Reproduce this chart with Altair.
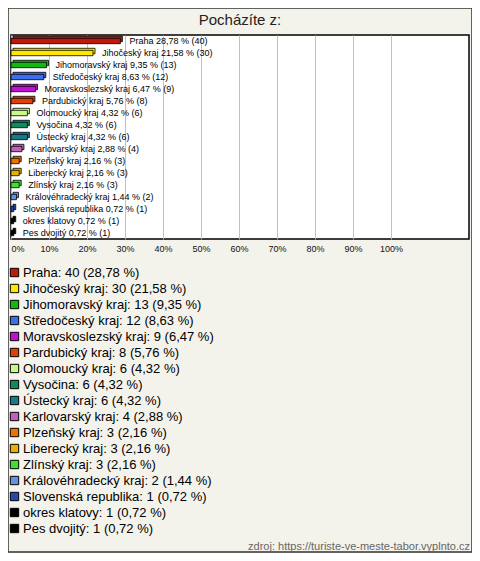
import altair as alt
import pandas as pd

categories = ["Praha", "Jihočeský kraj", "Jihomoravský kraj", "Středočeský kraj",
              "Moravskoslezský kraj", "Pardubický kraj", "Olomoucký kraj", "Vysočina",
              "Ústecký kraj", "Karlovarský kraj", "Plzeňský kraj", "Liberecký kraj",
              "Zlínský kraj", "Královéhradecký kraj", "Slovenská republika",
              "okres klatovy", "Pes dvojitý"]
counts = [40, 30, 13, 12, 9, 8, 6, 6, 6, 4, 3, 3, 3, 2, 1, 1, 1]
percents = [28.78, 21.58, 9.35, 8.63, 6.47, 5.76, 4.32, 4.32, 4.32, 2.88, 2.16, 2.16,
            2.16, 1.44, 0.72, 0.72, 0.72]
colors = ["#c0180c", "#ffe600", "#10b810", "#3c6ef0", "#c010d8", "#e04008", "#c8f888",
          "#108a60", "#18788c", "#c060c0", "#f07000", "#e8b000", "#40e030", "#6890e0",
          "#2848b0", "#000000", "#000000"]
tick_values = [0, 10, 20, 30, 40, 50, 60, 70, 80, 90, 100]
title_text = "Pocházíte z:"
source_text = "zdroj: https://turiste-ve-meste-tabor.vyplnto.cz"


def fmt(p):
    return f"{p:.2f}".replace(".", ",")


df = pd.DataFrame({
    "cat": categories,
    "count": counts,
    "pct": percents,
    "bar_label": [f"{c} {fmt(p)} % ({n})" for c, n, p in zip(categories, counts, percents)],
    "leg_label": [f"{c}: {n} ({fmt(p)} %)" for c, n, p in zip(categories, counts, percents)],
})
legend_labels = list(df["leg_label"])

W, H = 458, 204
FONT = "Liberation Sans"

y_enc = alt.Y("cat:N", sort=categories, axis=None,
              scale=alt.Scale(paddingInner=0.55, paddingOuter=0.275))
x_enc = alt.X("pct:Q",
              scale=alt.Scale(domain=[0, 120.5], nice=False, zero=True),
              axis=alt.Axis(values=tick_values, labelExpr="datum.value + '%'",
                            grid=True, gridColor="#c0c0c0", gridWidth=1,
                            domain=False, ticks=False, labelFontSize=9,
                            labelFont=FONT, labelColor="#111", labelPadding=5,
                            labelFlush=True, title=None))
color_enc = alt.Color("leg_label:N",
                      scale=alt.Scale(domain=legend_labels, range=colors),
                      sort=legend_labels,
                      legend=alt.Legend(orient="none", legendX=-3, legendY=231,
                                        title=None, symbolType="square",
                                        symbolSize=70, symbolStrokeColor="#000",
                                        symbolStrokeWidth=1, symbolOpacity=1,
                                        labelFontSize=13, labelFont=FONT,
                                        labelColor="#000", labelOffset=2,
                                        rowPadding=2, padding=0, columns=1,
                                        labelLimit=400))

base = alt.Chart(df)

back = base.mark_bar(xOffset=2, yOffset=-2, stroke="#000", strokeWidth=0.8).encode(
    x=x_enc, y=y_enc, color=color_enc)
front = base.mark_bar(stroke="#000", strokeWidth=0.8).encode(
    x=x_enc, y=y_enc, color=color_enc)
labels = base.mark_text(align="left", baseline="middle", dx=9, fontSize=9,
                        font=FONT, color="#000").encode(
    x="pct:Q", y=y_enc, text="bar_label:N")

one = alt.Chart(pd.DataFrame({"a": [0]}))
frame = one.mark_rect(fill=None, stroke="#333", strokeWidth=1.5).encode(
    x=alt.value(-3), x2=alt.value(461), y=alt.value(-27), y2=alt.value(517))
title = one.mark_text(align="center", baseline="middle", fontSize=15, font=FONT,
                      color="#222").encode(
    x=alt.value(W / 2), y=alt.value(-15), text=alt.value(title_text))
source = one.mark_text(align="right", baseline="middle", fontSize=11, font=FONT,
                       color="#666").encode(
    x=alt.value(459), y=alt.value(512), text=alt.value(source_text))

chart = alt.layer(back, front, labels, frame, title, source).properties(
    width=W, height=H,
    autosize=alt.AutoSizeParams(type="none"),
    padding={"left": 3, "top": 27, "right": 3, "bottom": 314},
).configure(background="#f4f3eb").configure_view(
    fill="#ffffff", stroke="#000", strokeWidth=1.5)

chart.save("out.html", embed_options={"renderer": "svg", "actions": False})
